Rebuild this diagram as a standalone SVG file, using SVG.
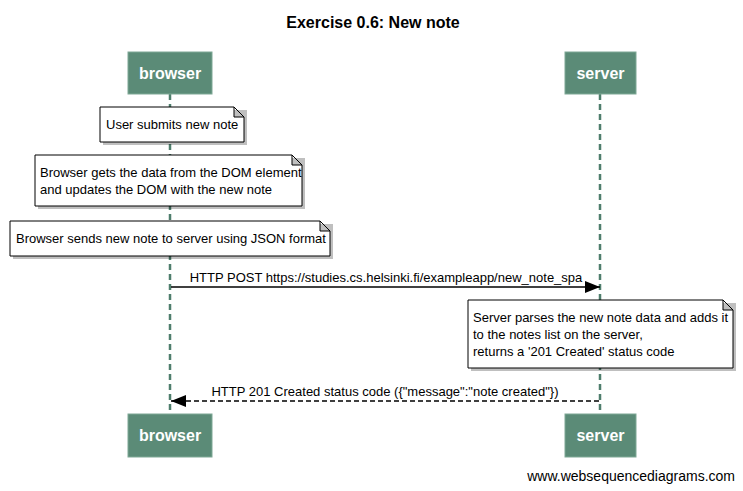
<svg xmlns="http://www.w3.org/2000/svg" width="743" height="491" viewBox="0 0 743 491">
<defs>
<style>
.t{font-family:"Liberation Sans",Arial,sans-serif;font-size:13px;fill:#000}
.title{font-family:"Liberation Sans",Arial,sans-serif;font-size:16px;font-weight:bold;fill:#000}
.pbox{fill:#5b8b77;stroke:#7fa896;stroke-width:1}
.ptext{font-family:"Liberation Sans",Arial,sans-serif;font-size:16px;font-weight:bold;fill:#fff}
.life{stroke:#4e7e6c;stroke-width:2.5;stroke-dasharray:6,4;fill:none}
.note{fill:#fff;stroke:#000;stroke-width:1}
.shadow{fill:#000;opacity:0.25}
.msg{stroke:#000;stroke-width:1.5;fill:none}
.dash{stroke-dasharray:5,3}
</style>
<marker id="ah" markerWidth="16" markerHeight="12" refX="15" refY="6" orient="auto" markerUnits="userSpaceOnUse">
<path d="M0,0 L15,6 L0,12 Z" fill="#000"/>
</marker>
</defs>
<rect width="743" height="491" fill="#fff"/>
<text class="title" x="373" y="28" text-anchor="middle">Exercise 0.6: New note</text>

<g id="lifelines">
<line class="life" x1="170" y1="94" x2="170" y2="414"/>
<line class="life" x1="600" y1="94" x2="600" y2="414"/>
</g>

<g id="browser-top"><rect class="pbox" x="128" y="52" width="84" height="42"/><text class="ptext" x="170" y="79" text-anchor="middle">browser</text></g>
<g id="server-top"><rect class="pbox" x="565" y="52" width="71" height="42"/><text class="ptext" x="600.5" y="79" text-anchor="middle">server</text></g>
<g id="browser-bottom"><rect class="pbox" x="128" y="414" width="84" height="43"/><text class="ptext" x="170" y="441" text-anchor="middle">browser</text></g>
<g id="server-bottom"><rect class="pbox" x="565" y="414" width="71" height="43"/><text class="ptext" x="600.5" y="441" text-anchor="middle">server</text></g>

<g id="note1">
<path class="shadow" d="M103,110 H247 V145 H103 Z"/>
<path class="note" d="M100,107 H234 L244,117 V142 H100 Z M234,107 V117 H244"/>
<text class="t" x="106" y="129">User submits new note</text>
</g>
<g id="note2">
<path class="shadow" d="M38,158 H305 V209 H38 Z"/>
<path class="note" d="M35,155 H292 L302,165 V206 H35 Z M292,155 V165 H302"/>
<text class="t" x="40" y="177">Browser gets the data from the DOM element</text>
<text class="t" x="40" y="194">and updates the DOM with the new note</text>
</g>
<g id="note3">
<path class="shadow" d="M13,224 H333 V259 H13 Z"/>
<path class="note" d="M10,221 H320 L330,231 V256 H10 Z M320,221 V231 H330"/>
<text class="t" x="16" y="243">Browser sends new note to server using JSON format</text>
</g>
<g id="note4">
<path class="shadow" d="M471,303 H736 V371 H471 Z"/>
<path class="note" d="M468,300 H723 L733,310 V368 H468 Z M723,300 V310 H733"/>
<text class="t" x="473" y="322">Server parses the new note data and adds it</text>
<text class="t" x="473" y="339">to the notes list on the server,</text>
<text class="t" x="473" y="356">returns a '201 Created' status code</text>
</g>

<g id="connectors">
<line class="msg" x1="171" y1="287" x2="600" y2="287" marker-end="url(#ah)"/>
<text class="t" x="386" y="282" text-anchor="middle">HTTP POST https://studies.cs.helsinki.fi/exampleapp/new_note_spa</text>
<line class="msg dash" x1="599" y1="401" x2="171" y2="401" marker-end="url(#ah)"/>
<text class="t" x="385" y="396" text-anchor="middle">HTTP 201 Created status code ({"message":"note created"})</text>
</g>

<text x="735" y="481" text-anchor="end" style="font-family:'Liberation Sans',Arial,sans-serif;font-size:14px;fill:#000">www.websequencediagrams.com</text>
</svg>
